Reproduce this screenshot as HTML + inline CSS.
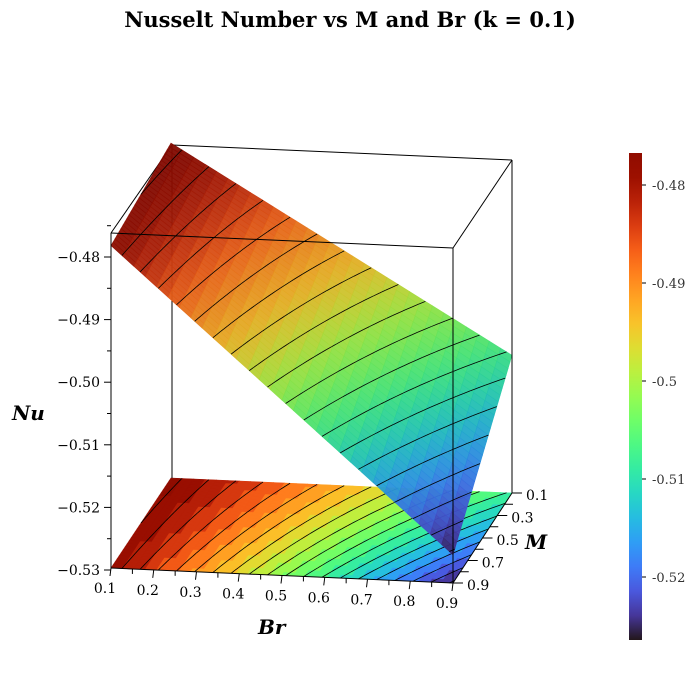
<!DOCTYPE html>
<html><head><meta charset="utf-8"><style>
body{margin:0;background:#fff}
svg{display:block}
text{font-family:"DejaVu Serif","Liberation Serif",serif}
</style></head><body>
<svg id="s" width="700" height="700" viewBox="0 0 700 700" xmlns="http://www.w3.org/2000/svg">
<defs><linearGradient id="cb" x1="0" y1="1" x2="0" y2="0"></linearGradient></defs>
<text x="350" y="27" text-anchor="middle" font-size="21" font-weight="bold">Nusselt Number vs M and Br (k = 0.1)</text>
<g id="floor"></g><g id="box1"></g><g id="surf"></g><g id="box2"></g><g id="ax"></g>
</svg>
<script>
const NS="http://www.w3.org/2000/svg";
function el(p,t,a,txt){const e=document.createElementNS(NS,t);for(const k in a)e.setAttribute(k,a[k]);if(txt!==undefined)e.textContent=txt;p.appendChild(e);return e;}
function turboRGB(t){t=Math.max(0,Math.min(1,t));
const r=34.61+t*(1172.33-t*(10793.56-t*(33300.12-t*(38394.49-t*14825.05))));
const g=23.31+t*(557.33+t*(1225.33-t*(3574.96-t*(1073.77+t*707.56))));
const b=27.2+t*(3211.1-t*(15327.97-t*(27814-t*(22569.18-t*6838.66))));
return [r,g,b].map(v=>Math.max(0,Math.min(255,v)));}
function turbo(t,s){s=s||1;const c=turboRGB(t);return `rgb(${Math.round(c[0]*s)},${Math.round(c[1]*s)},${Math.round(c[2]*s)})`;}
const ZMIN=-0.5264,ZMAX=-0.4767;
function col(z,s){return turbo((z-ZMIN)/(ZMAX-ZMIN),s);}
function Nu(b,m){const z00=-0.4765,z01=-0.4785,z10=-0.508,z11=-0.5255;
return z00*(1-b)*(1-m)+z01*(1-b)*m+z10*b*(1-m)+z11*b*m;}
const Q00=[171,478],Q10=[512,493],Q01=[111,568],Q11=[453,583];
function base(b,m){return [Q00[0]*(1-b)*(1-m)+Q10[0]*b*(1-m)+Q01[0]*(1-b)*m+Q11[0]*b*m,
Q00[1]*(1-b)*(1-m)+Q10[1]*b*(1-m)+Q01[1]*(1-b)*m+Q11[1]*b*m];}
function sp(b,m){const p=base(b,m);return [p[0],p[1]-(Nu(b,m)+0.53)*6260];}
const N=30;
const fl=document.getElementById('floor'),su=document.getElementById('surf');
const step=0.0025;
function quad(g,f,i,j,fill,op){const a=f(i/N,j/N),b=f((i+1)/N,j/N),c=f((i+1)/N,(j+1)/N),d=f(i/N,(j+1)/N);
el(g,'polygon',{points:[a,b,c,d].map(p=>p[0].toFixed(2)+','+p[1].toFixed(2)).join(' '),fill:fill,stroke:fill,'stroke-width':0.6,'fill-opacity':op||1,'stroke-opacity':op||1});}
for(let i=0;i<N;i++)for(let j=0;j<N;j++){
 const z=Nu((i+.5)/N,(j+.5)/N);
 const zq=Math.floor((z+0.53)/step)*step-0.53+step/2;
 quad(fl,base,i,j,col(zq));
}
for(let i=0;i<N;i++)for(let j=0;j<N;j++){
 const z=Nu((i+.5)/N,(j+.5)/N);
 quad(su,sp,i,j,col(z,0.9),0.95);
}
function contours(g,f){
 for(let L=-0.53+step;L<-0.476;L+=step){
  for(let i=0;i<N;i++)for(let j=0;j<N;j++){
   const cs=[[i,j],[i+1,j],[i+1,j+1],[i,j+1]];
   const pts=[];
   for(let k=0;k<4;k++){const A=cs[k],B=cs[(k+1)%4];
    const za=Nu(A[0]/N,A[1]/N),zb=Nu(B[0]/N,B[1]/N);
    if((za-L)*(zb-L)<0){const t=(L-za)/(zb-za);pts.push(f((A[0]+t*(B[0]-A[0]))/N,(A[1]+t*(B[1]-A[1]))/N));}}
   if(pts.length>=2)el(g,'line',{x1:pts[0][0],y1:pts[0][1],x2:pts[1][0],y2:pts[1][1],stroke:'#000','stroke-width':0.8});
  }}}
contours(fl,base);contours(su,sp);
const b1=document.getElementById('box1'),b2=document.getElementById('box2');
const L1=(g,x1,y1,x2,y2)=>el(g,'line',{x1,y1,x2,y2,stroke:'#000','stroke-width':1});
L1(b1,172,145,172,478);L1(b1,172,145,512,160);L1(b1,172,145,111,233);
L1(b2,111,233,453,248);L1(b2,512,160,453,248);L1(b2,512,160,512,493);L1(b2,453,248,453,583);
L1(b2,111,233,111,568);L1(b2,111,568,453,583);L1(b2,453,583,512,493);
const ax=document.getElementById('ax');
const nul=['−0.48','−0.49','−0.50','−0.51','−0.52','−0.53'];
for(let k=0;k<6;k++){const y=257+k*62.6;L1(ax,104,y,111,y);el(ax,'text',{x:100,y:y+5,'text-anchor':'end','font-size':14},nul[k]);
 if(k<5){L1(ax,107,y+31.3,111,y+31.3);}}
L1(ax,107,257-31.3,111,257-31.3);
for(let k=0;k<9;k++){const t=k/8;const x=111+342*t,y=568+15*t;L1(ax,x,y,x-1,y+8);
 el(ax,'text',{x:x-6,y:y+25,'text-anchor':'middle','font-size':14},(0.1+0.1*k).toFixed(1));
 if(k<8){const x2=x+21.4,y2=y+0.94;L1(ax,x2,y2,x2,y2+5);}}
for(let k=0;k<5;k++){const t=k/4;const x=512-59*t,y=493+90*t;L1(ax,x,y,x+10,y);
 el(ax,'text',{x:x+14,y:y+7,'font-size':14},(0.1+0.2*k).toFixed(1));
 if(k<4){L1(ax,x-7.4,y+11.25,x+1,y+11.25);}}
el(ax,'text',{x:12,y:420,'font-size':20,'font-weight':'bold','font-style':'italic'},'Nu');
el(ax,'text',{x:258,y:634,'font-size':20,'font-weight':'bold','font-style':'italic'},'Br');
el(ax,'text',{x:525,y:549,'font-size':20,'font-weight':'bold','font-style':'italic'},'M');
const g=document.getElementById('cb');
for(let k=0;k<=20;k++)el(g,'stop',{offset:k/20,'stop-color':turbo(k/20)});
el(ax,'rect',{x:629,y:153,width:13,height:487,fill:'url(#cb)'});
const cl=['-0.48','-0.49','-0.5','-0.51','-0.52'];
for(let k=0;k<5;k++){const y=185+k*98;L1(ax,642,y,646,y);
 el(ax,'text',{x:652,y:y+5,'font-size':13,fill:'#333','font-family':'DejaVu Sans,sans-serif'},cl[k]);}
</script>
</body></html>
